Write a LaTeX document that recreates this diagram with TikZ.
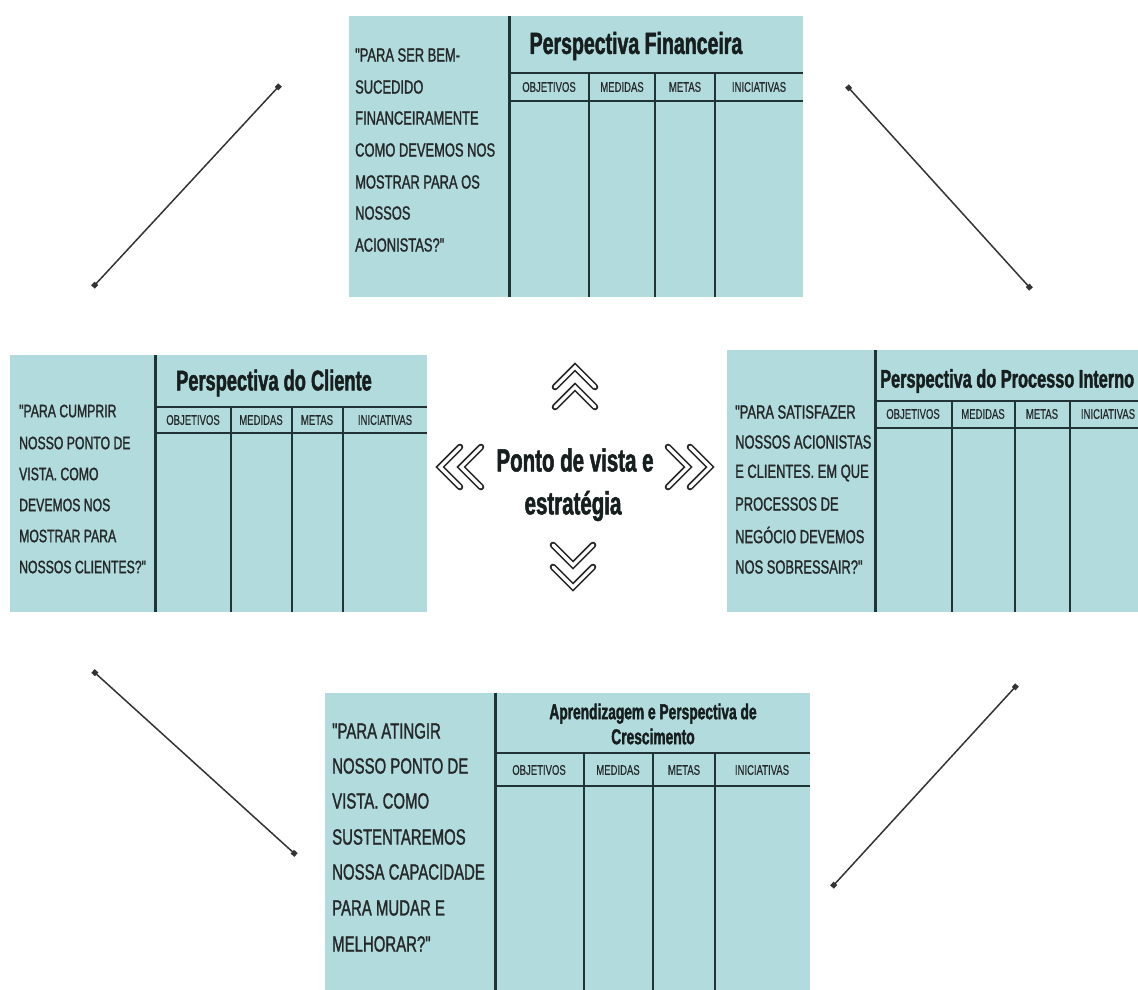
\documentclass[tikz,border=0pt]{standalone}
\usepackage{fontspec}
\usetikzlibrary{arrows.meta}
\newfontfamily\bodyf{Liberation Sans}[FakeStretch=0.68,FakeBold=1.3]
\newfontfamily\headf{Liberation Sans}[FakeStretch=0.68,FakeBold=0.4]
\newfontfamily\titlef{Liberation Sans}[FakeStretch=0.64,FakeBold=1.6]
\definecolor{boxfill}{RGB}{178,219,221}
\definecolor{lineC}{RGB}{32,52,54}
\definecolor{txt}{RGB}{36,40,40}
\definecolor{ttl}{RGB}{22,30,30}
\tikzset{
  panel/.style={fill=boxfill, draw=none, inner sep=0pt, anchor=north west},
  divider/.style={draw=lineC, line width=3pt},
  hline/.style={draw=lineC, line width=2.6pt},
  colline/.style={draw=lineC, line width=1.8pt},
  body/.style={anchor=west, inner sep=0pt, text=txt, font=\bodyf\fontsize{19}{19}\selectfont},
  bodysm/.style={anchor=west, inner sep=0pt, text=txt, font=\bodyf\fontsize{18}{18}\selectfont},
  bodybig/.style={anchor=west, inner sep=0pt, text=txt, font=\bodyf\fontsize{22}{22}\selectfont},
  colhead/.style={inner sep=0pt, text=txt, font=\headf\fontsize{14}{14}\selectfont},
  ttlstyle/.style={inner sep=0pt, text=ttl},
  chevout/.style={draw=black!85, line width=6.6pt, line cap=round, line join=miter},
  chevin/.style={draw=white, line width=3.2pt, line cap=round, line join=miter},
  link/.style={draw=black!80, line width=1.5pt, {Square[length=5pt,width=5pt]}-{Square[length=5pt,width=5pt]}},
}
\begin{document}
\begin{tikzpicture}[x=1pt, y=-1pt]
\useasboundingbox (0,0) rectangle (1138,989);
\clip (0,0) rectangle (1138,989);

% ---------- Top panel: Financeira ----------
\node[panel, minimum width=454pt, minimum height=281pt] (fin) at (349,16) {};
\draw[divider] (509,16) -- (509,297);
\draw[hline] (509,73) -- (803,73);
\draw[hline] (509,101) -- (803,101);
\foreach \cx in {589,655,715} \draw[colline] (\cx,73) -- (\cx,297);
\node[ttlstyle, font=\titlef\bfseries\fontsize{30.5}{30.5}\selectfont] (fint) at (636,46) {Perspectiva Financeira};
\node[colhead] (finh1) at (549,87) {OBJETIVOS};
\node[colhead] (finh2) at (622,87) {MEDIDAS};
\node[colhead] (finh3) at (685,87) {METAS};
\node[colhead] (finh4) at (759,87) {INICIATIVAS};
\node[body] (fq1) at (355,55) {"PARA SER BEM-};
\node[body] (fq2) at (355,87) {SUCEDIDO};
\node[body] (fq3) at (355,118) {FINANCEIRAMENTE};
\node[body] (fq4) at (355,150) {COMO DEVEMOS NOS};
\node[body] (fq5) at (355,182) {MOSTRAR PARA OS};
\node[body] (fq6) at (355,213) {NOSSOS};
\node[body] (fq7) at (355,245) {ACIONISTAS?"};

% ---------- Left panel: Cliente ----------
\node[panel, minimum width=417pt, minimum height=257pt] (cli) at (10,355) {};
\draw[divider] (155,355) -- (155,612);
\draw[hline] (155,407) -- (427,407);
\draw[hline] (155,433) -- (427,433);
\foreach \cx in {231,292,343} \draw[colline] (\cx,407) -- (\cx,612);
\node[ttlstyle, font=\titlef\bfseries\fontsize{28.5}{28.5}\selectfont] (clit) at (274,383) {Perspectiva do Cliente};
\node[colhead] (clih1) at (193,420) {OBJETIVOS};
\node[colhead] (clih2) at (261,420) {MEDIDAS};
\node[colhead] (clih3) at (317,420) {METAS};
\node[colhead] (clih4) at (385,420) {INICIATIVAS};
\node[bodysm] (cq1) at (19,411) {"PARA CUMPRIR};
\node[bodysm] (cq2) at (19,443) {NOSSO PONTO DE};
\node[bodysm] (cq3) at (19,474) {VISTA. COMO};
\node[bodysm] (cq4) at (19,505) {DEVEMOS NOS};
\node[bodysm] (cq5) at (19,536) {MOSTRAR PARA};
\node[bodysm] (cq6) at (19,567) {NOSSOS CLIENTES?"};

% ---------- Right panel: Processo Interno ----------
\node[panel, minimum width=430pt, minimum height=262pt] (pro) at (727,350) {};
\draw[divider] (875,350) -- (875,612);
\draw[hline] (875,401) -- (1157,401);
\draw[hline] (875,428) -- (1157,428);
\foreach \cx in {952,1015,1070} \draw[colline] (\cx,401) -- (\cx,612);
\node[ttlstyle, anchor=west, font=\titlef\bfseries\fontsize{25.5}{25.5}\selectfont] (prot) at (880,381) {Perspectiva do Processo Interno};
\node[colhead] (proh1) at (913,414) {OBJETIVOS};
\node[colhead] (proh2) at (983,414) {MEDIDAS};
\node[colhead] (proh3) at (1042,414) {METAS};
\node[colhead] (proh4) at (1108,414) {INICIATIVAS};
\node[body] (pq1) at (735,412) {"PARA SATISFAZER};
\node[body] (pq2) at (735,442) {NOSSOS ACIONISTAS};
\node[body] (pq3) at (735,473) {E CLIENTES. EM QUE};
\node[body] (pq4) at (735,504) {PROCESSOS DE};
\node[body] (pq5) at (735,535) {NEGÓCIO DEVEMOS};
\node[body] (pq6) at (735,567) {NOS SOBRESSAIR?"};

% ---------- Bottom panel: Aprendizagem ----------
\node[panel, minimum width=485pt, minimum height=310pt] (apr) at (325,693) {};
\draw[divider] (495,693) -- (495,1003);
\draw[hline] (495,753) -- (810,753);
\draw[hline] (495,786) -- (810,786);
\foreach \cx in {584,653,715} \draw[colline] (\cx,753) -- (\cx,1003);
\node[ttlstyle, align=center, font=\titlef\bfseries\fontsize{21.5}{25}\selectfont] (aprt) at (653,724) {Aprendizagem e Perspectiva de\\Crescimento};
\node[colhead] (aprh1) at (539,770) {OBJETIVOS};
\node[colhead] (aprh2) at (618,770) {MEDIDAS};
\node[colhead] (aprh3) at (684,770) {METAS};
\node[colhead] (aprh4) at (762,770) {INICIATIVAS};
\node[bodybig] (aq1) at (332,731) {"PARA ATINGIR};
\node[bodybig] (aq2) at (332,766) {NOSSO PONTO DE};
\node[bodybig] (aq3) at (332,801) {VISTA. COMO};
\node[bodybig] (aq4) at (332,837) {SUSTENTAREMOS};
\node[bodybig] (aq5) at (332,872) {NOSSA CAPACIDADE};
\node[bodybig] (aq6) at (332,908) {PARA MUDAR E};
\node[bodybig] (aq7) at (332,944) {MELHORAR?"};

% ---------- Centre ----------
\node[ttlstyle, font=\titlef\bfseries\fontsize{32}{32}\selectfont] (ctr1) at (575,460) {Ponto de vista e};
\node[ttlstyle, font=\titlef\bfseries\fontsize{32}{32}\selectfont] (ctr2) at (573,506) {estratégia};

% chevrons up
\foreach \dy in {0,20} {
  \draw[chevout] (555,387+\dy) -- (575,367+\dy) -- (595,387+\dy);
  \draw[chevin]  (555,387+\dy) -- (575,367+\dy) -- (595,387+\dy);
}
% chevrons down
\foreach \dy in {0,22} {
  \draw[chevout] (553,545+\dy) -- (573,565+\dy) -- (593,545+\dy);
  \draw[chevin]  (553,545+\dy) -- (573,565+\dy) -- (593,545+\dy);
}
% chevrons left
\foreach \dx in {0,21} {
  \draw[chevout] (460+\dx,447) -- (440+\dx,467) -- (460+\dx,487);
  \draw[chevin]  (460+\dx,447) -- (440+\dx,467) -- (460+\dx,487);
}
% chevrons right
\foreach \dx in {0,22} {
  \draw[chevout] (668+\dx,447) -- (688+\dx,467) -- (668+\dx,487);
  \draw[chevin]  (668+\dx,447) -- (688+\dx,467) -- (668+\dx,487);
}

% ---------- Connectors ----------
\coordinate (l1a) at (280,85);   \coordinate (l1b) at (93,287);
\coordinate (l2a) at (847,86);   \coordinate (l2b) at (1031,289);
\coordinate (l3a) at (93,671);   \coordinate (l3b) at (296,855);
\coordinate (l4a) at (1017,685); \coordinate (l4b) at (832,887);
\draw[link] (l1a) -- (l1b);
\draw[link] (l2a) -- (l2b);
\draw[link] (l3a) -- (l3b);
\draw[link] (l4a) -- (l4b);
\end{tikzpicture}
\end{document}
